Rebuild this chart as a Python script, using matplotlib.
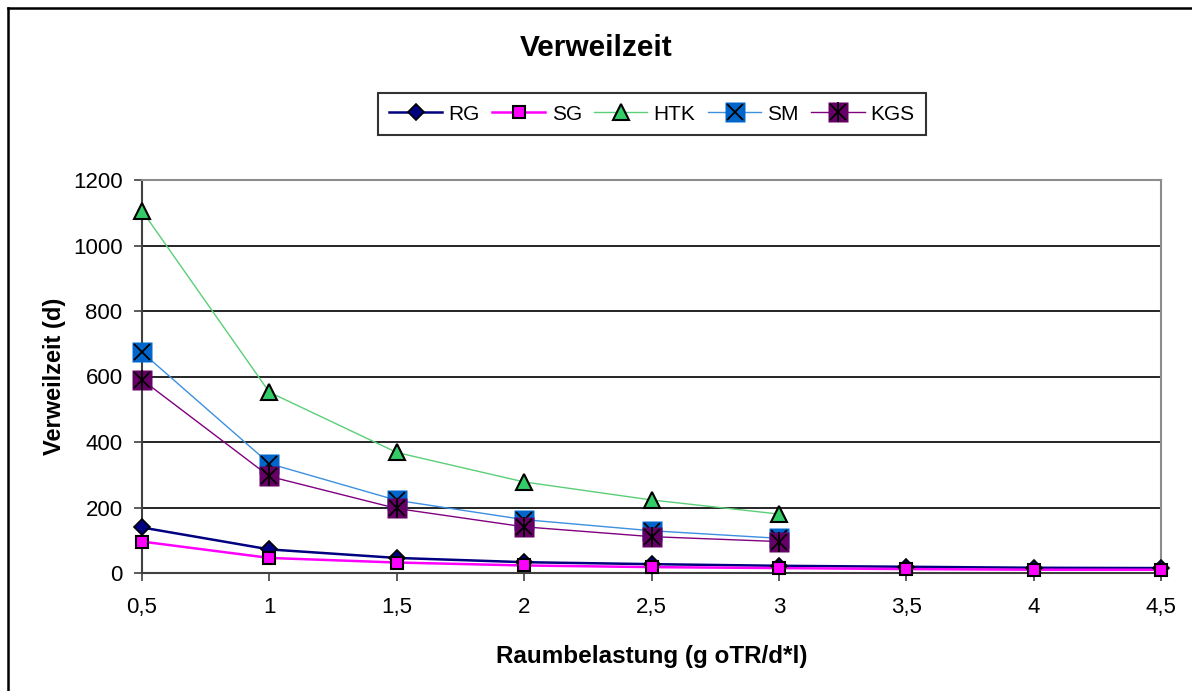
import matplotlib
matplotlib.use('Agg')
import matplotlib.pyplot as plt
from matplotlib.lines import Line2D
from matplotlib.legend_handler import HandlerTuple
from matplotlib.ticker import FuncFormatter

plt.rcParams['font.family'] = ['Liberation Sans', 'DejaVu Sans']

# data
x_all = [0.5, 1, 1.5, 2, 2.5, 3, 3.5, 4, 4.5]
x_short = [0.5, 1, 1.5, 2, 2.5, 3]
rg = [139, 72, 46, 33, 27, 22, 19, 16, 15]
sg = [96, 46, 32, 23, 18, 15, 12, 10, 10]
htk = [1106, 552, 368, 278, 223, 180]
sm = [674, 334, 222, 163, 129, 106]
kgs = [590, 295, 197, 141, 111, 96]

x_ticks = [0.5, 1, 1.5, 2, 2.5, 3, 3.5, 4, 4.5]
y_ticks = [0, 200, 400, 600, 800, 1000, 1200]

fig = plt.figure(figsize=(11.92, 6.91), dpi=100)
ax = fig.add_axes([142/1192, 1-573/691, (1161-142)/1192, (573-180)/691])

# gridlines
for yv in y_ticks[1:-1]:
    ax.axhline(yv, color='black', lw=1.2, zorder=1)

kw = dict(clip_on=False)
# RG
ax.plot(x_all, rg, color='#000080', lw=1.8, zorder=3, **kw)
h_rg = ax.plot(x_all, rg, ls='none', marker='D', ms=8, mfc='#000080', mec='black', mew=1.2, zorder=4, **kw)[0]
# SG
ax.plot(x_all, sg, color='#FF00FF', lw=1.8, zorder=3, **kw)
h_sg = ax.plot(x_all, sg, ls='none', marker='s', ms=8, mfc='#FF00FF', mec='black', mew=1.5, zorder=5, **kw)[0]
# HTK
ax.plot(x_short, htk, color='#5ACF78', lw=1, zorder=3, **kw)
h_htk = ax.plot(x_short, htk, ls='none', marker='^', ms=11, mfc='#33CC66', mec='black', mew=1.5, zorder=4, **kw)[0]
# SM
ax.plot(x_short, sm, color='#3D8FE0', lw=1, zorder=3, **kw)
h_sm1 = ax.plot(x_short, sm, ls='none', marker='s', ms=14.5, mfc='#0066CC', mec='none', zorder=6, **kw)[0]
h_sm2 = ax.plot(x_short, sm, ls='none', marker='x', ms=11, mec='black', mew=1.3, zorder=6, **kw)[0]
# KGS
ax.plot(x_short, kgs, color='#800080', lw=1, zorder=3, **kw)
h_k1 = ax.plot(x_short, kgs, ls='none', marker='s', ms=14.5, mfc='#660066', mec='none', zorder=7, **kw)[0]
h_k2 = ax.plot(x_short, kgs, ls='none', marker='x', ms=11, mec='black', mew=1.3, zorder=7, **kw)[0]
h_k3 = ax.plot(x_short, kgs, ls='none', marker='|', ms=14, mec='black', mew=1.3, zorder=7, **kw)[0]

ax.set_xlim(0.5, 4.5)
ax.set_ylim(0, 1200)
ax.set_xticks(x_ticks)
ax.set_yticks(y_ticks)
ax.xaxis.set_major_formatter(FuncFormatter(lambda v, p: ('%g' % v).replace('.', ',')))
ax.tick_params(axis='both', direction='out', length=6, width=1.2, color='#404040', labelsize=16, pad=8)
ax.tick_params(axis='x', pad=11)

for s in ['top', 'right']:
    ax.spines[s].set_color('#8C8C8C')
    ax.spines[s].set_linewidth(1.5)
for s in ['left', 'bottom']:
    ax.spines[s].set_color('#404040')
    ax.spines[s].set_linewidth(1.5)

ax.set_xlabel('Raumbelastung (g oTR/d*l)', fontsize=17.5, fontweight='bold', labelpad=20)
ax.set_ylabel('Verweilzeit (d)', fontsize=17, fontweight='bold', labelpad=5)
fig.text(596/1192, 1-48/691, 'Verweilzeit', ha='center', va='center', fontsize=21.5, fontweight='bold')

# legend
leg_rg = (Line2D([], [], color='#000080', lw=1.8), h_rg)
leg_sg = (Line2D([], [], color='#FF00FF', lw=1.8), h_sg)
leg_htk = (Line2D([], [], color='#5ACF78', lw=1), h_htk)
leg_sm = (Line2D([], [], color='#3D8FE0', lw=1), h_sm1, h_sm2)
leg_kgs = (Line2D([], [], color='#800080', lw=1), h_k1, h_k2, h_k3)
leg = fig.legend([leg_rg, leg_sg, leg_htk, leg_sm, leg_kgs], ['RG', 'SG', 'HTK', 'SM', 'KGS'],
                 handler_map={tuple: HandlerTuple(ndivide=1)},
                 loc='center', bbox_to_anchor=(652/1192, 1-114/691), ncol=5, fontsize=15,
                 frameon=True, fancybox=False, edgecolor='black', handlelength=2.55,
                 handletextpad=0.3, columnspacing=0.6, borderpad=0.55)
leg.get_frame().set_linewidth(1.5)

# outer frame (left and top edges visible)
fig.add_artist(Line2D([8/1192, 8/1192], [0, 1-8/691], color='black', lw=1.8, transform=fig.transFigure))
fig.add_artist(Line2D([8/1192, 1], [1-8/691, 1-8/691], color='black', lw=1.8, transform=fig.transFigure))

fig.savefig('out.png', dpi=100)
